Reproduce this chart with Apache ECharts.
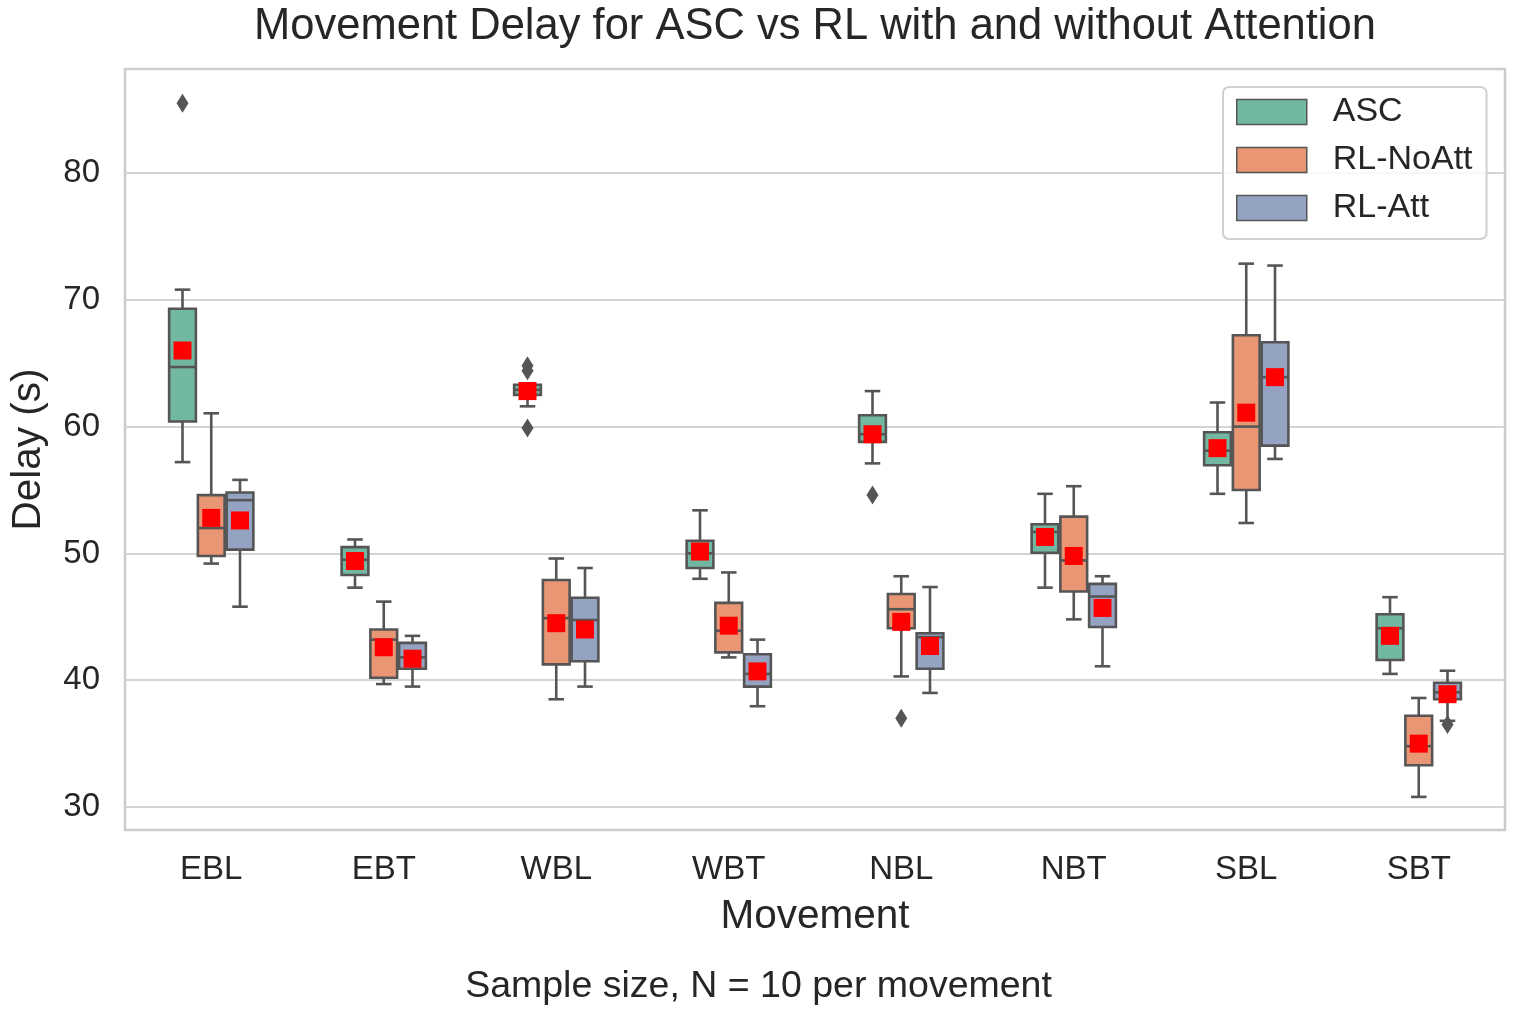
<!DOCTYPE html>
<html lang="en">
<head>
	<meta charset="UTF-8">
	<title>Movement Delay for ASC vs RL with and without Attention</title>
	<script src="https://cdn.jsdelivr.net/npm/echarts@6/dist/echarts.min.js"></script>
	<style>
		html, body { margin: 0; padding: 0; background: #fff; }
		#chart { width: 1517px; height: 1016px; }
	</style>
</head>
<body>
<div id="chart"></div>
<script>
	// movements on the x axis
	var categories = ['EBL', 'EBT', 'WBL', 'WBT', 'NBL', 'NBT', 'SBL', 'SBT'];
	var groups = ['ASC', 'RL-NoAtt', 'RL-Att'];
	var yTicks = [30, 40, 50, 60, 70, 80];

	// box stats per movement: [whisker low, Q1, median, Q3, whisker high]
	var ascBox = [
		[57.2, 60.4, 64.7, 69.3, 70.8],
		[47.3, 48.3, 49.5, 50.5, 51.1],
		[61.6, 62.5, 62.9, 63.3, 63.4],
		[48.0, 48.85, 50.0, 51.0, 53.4],
		[57.1, 58.8, 59.4, 60.9, 62.8],
		[47.3, 50.05, 51.7, 52.3, 54.7],
		[54.7, 56.95, 58.1, 59.55, 61.9],
		[40.5, 41.6, 44.1, 45.2, 46.55]
	];
	var noAttBox = [
		[49.2, 49.8, 52.0, 54.6, 61.05],
		[39.7, 40.2, 43.2, 44.0, 46.2],
		[38.5, 41.25, 44.9, 47.9, 49.6],
		[41.8, 42.2, 43.9, 46.1, 48.5],
		[40.3, 44.1, 45.6, 46.8, 48.2],
		[44.8, 47.0, 49.45, 52.9, 55.3],
		[52.4, 55.0, 60.0, 67.2, 72.85],
		[30.8, 33.3, 34.8, 37.2, 38.6]
	];
	var attBox = [
		[45.8, 50.3, 54.2, 54.8, 55.8],
		[39.5, 40.9, 41.8, 42.95, 43.5],
		[39.5, 41.5, 44.75, 46.5, 48.85],
		[37.95, 39.5, 40.5, 42.05, 43.2],
		[39.0, 40.9, 43.4, 43.7, 47.35],
		[41.1, 44.2, 46.6, 47.6, 48.2],
		[57.45, 58.5, 63.9, 66.65, 72.7],
		[36.8, 38.5, 39.05, 39.8, 40.75]
	];

	// means (red squares)
	var ascMean = [66.0, 49.4, 62.8, 50.15, 59.4, 51.3, 58.3, 43.5];
	var noAttMean = [52.8, 42.6, 44.5, 44.3, 44.6, 49.8, 61.1, 35.0];
	var attMean = [52.6, 41.7, 44.0, 40.7, 42.7, 45.7, 63.9, 38.9];

	// outliers: [movement index, value]
	var ascOut = [[0, 85.5], [2, 64.4], [2, 64.8], [2, 59.9], [4, 54.6]];
	var noAttOut = [[4, 37.0]];
	var attOut = [[7, 36.5]];

	var colors = ['#72b7a1', '#e99675', '#95a3c3'];
	var lineColor = '#555555';
	var textColor = '#262626';
	var font = "'Liberation Sans', Arial, sans-serif";

	function boxData(box, mean) {
		var out = [];
		for (var i = 0; i < box.length; i++) {
			out.push([i].concat(box[i]).concat([mean[i]]));
		}
		return out;
	}

	// three boxes share half of each category band
	function boxRender(slot) {
		return function (params, api) {
			var cat = api.value(0);
			var band = api.size([1, 0])[0];
			var w = band * 0.5 / 3;
			var cx = api.coord([cat, 0])[0] + (slot - 1) * w;
			var yLow = api.coord([cat, api.value(1)])[1];
			var yQ1 = api.coord([cat, api.value(2)])[1];
			var yMed = api.coord([cat, api.value(3)])[1];
			var yQ3 = api.coord([cat, api.value(4)])[1];
			var yHigh = api.coord([cat, api.value(5)])[1];
			var yMean = api.coord([cat, api.value(6)])[1];
			var cap = w * 0.27;
			var ls = { stroke: lineColor, lineWidth: 2.6 };
			var sq = 18;
			return {
				type: 'group',
				children: [
					{ type: 'line', shape: { x1: cx, y1: yQ3, x2: cx, y2: yHigh }, style: ls },
					{ type: 'line', shape: { x1: cx, y1: yQ1, x2: cx, y2: yLow }, style: ls },
					{ type: 'line', shape: { x1: cx - cap, y1: yHigh, x2: cx + cap, y2: yHigh }, style: ls },
					{ type: 'line', shape: { x1: cx - cap, y1: yLow, x2: cx + cap, y2: yLow }, style: ls },
					{ type: 'rect', shape: { x: cx - w / 2 + 1, y: yQ3, width: w - 2, height: yQ1 - yQ3 },
						style: { fill: colors[slot], stroke: lineColor, lineWidth: 2.6 } },
					{ type: 'line', shape: { x1: cx - w / 2 + 1, y1: yMed, x2: cx + w / 2 - 1, y2: yMed }, style: ls },
					{ type: 'rect', shape: { x: cx - sq / 2, y: yMean - sq / 2, width: sq, height: sq },
						style: { fill: '#ff0000' } }
				]
			};
		};
	}

	function outRender(slot) {
		return function (params, api) {
			var cat = api.value(0);
			var band = api.size([1, 0])[0];
			var w = band * 0.5 / 3;
			var p = api.coord([cat, api.value(1)]);
			var cx = p[0] + (slot - 1) * w;
			var cy = p[1];
			return {
				type: 'polygon',
				shape: { points: [[cx, cy - 9.5], [cx + 6, cy], [cx, cy + 9.5], [cx - 6, cy]] },
				style: { fill: lineColor }
			};
		};
	}

	var boxSets = [boxData(ascBox, ascMean), boxData(noAttBox, noAttMean), boxData(attBox, attMean)];
	var outSets = [ascOut, noAttOut, attOut];

	var series = [];
	for (var g = 0; g < 3; g++) {
		series.push({
			name: groups[g],
			type: 'custom',
			renderItem: boxRender(g),
			itemStyle: { color: colors[g] },
			encode: { x: 0, y: [1, 2, 3, 4, 5, 6] },
			data: boxSets[g],
			z: 3
		});
		series.push({
			name: groups[g],
			type: 'custom',
			renderItem: outRender(g),
			itemStyle: { color: colors[g] },
			encode: { x: 0, y: 1 },
			data: outSets[g],
			z: 3
		});
	}

	var chart = echarts.init(document.getElementById('chart'));
	chart.setOption({
		animation: false,
		backgroundColor: '#ffffff',
		title: {
			text: 'Movement Delay for ASC vs RL with and without Attention',
			left: 810, top: 0, textAlign: 'center',
			textStyle: { fontFamily: font, fontSize: 43.5, fontWeight: 'normal', color: textColor }
		},
		legend: {
			orient: 'vertical',
			left: 1223, top: 87,
			padding: [8, 14, 14, 13],
			itemWidth: 70, itemHeight: 25, itemGap: 14,
			backgroundColor: 'rgba(255,255,255,0.8)',
			borderColor: '#d0d0d0', borderWidth: 2, borderRadius: 6,
			icon: 'rect',
			data: groups.map(function (n, i) {
				return { name: n, itemStyle: { color: colors[i], borderColor: lineColor, borderWidth: 1.5 } };
			}),
			textStyle: { fontFamily: font, fontSize: 34, color: textColor, padding: [0, 0, 0, 21] }
		},
		grid: {
			left: 125, right: 12, top: 69, bottom: 186,
			show: true, borderColor: '#cccccc', borderWidth: 2.5
		},
		xAxis: {
			type: 'category',
			data: categories,
			boundaryGap: true,
			axisLine: { show: false },
			axisTick: { show: false },
			axisLabel: { fontFamily: font, fontSize: 33, color: textColor, margin: 23 },
			name: 'Movement',
			nameLocation: 'middle',
			nameGap: 66,
			nameTextStyle: { fontFamily: font, fontSize: 40.5, color: textColor }
		},
		yAxis: {
			type: 'value',
			min: 28.19, max: 88.2,
			axisLine: { show: false },
			axisTick: { show: false, customValues: yTicks },
			axisLabel: { fontFamily: font, fontSize: 33, color: textColor, margin: 25, customValues: yTicks },
			splitLine: { show: true, lineStyle: { color: '#d4d4d4', width: 2 } },
			name: 'Delay (s)',
			nameLocation: 'middle',
			nameGap: 76,
			nameTextStyle: { fontFamily: font, fontSize: 40.5, color: textColor }
		},
		graphic: [{
			type: 'text',
			left: 'center',
			top: 968,
			style: {
				text: 'Sample size, N = 10 per movement',
				font: '37.5px ' + font,
				fill: textColor
			}
		}],
		series: series
	});
</script>
</body>
</html>
